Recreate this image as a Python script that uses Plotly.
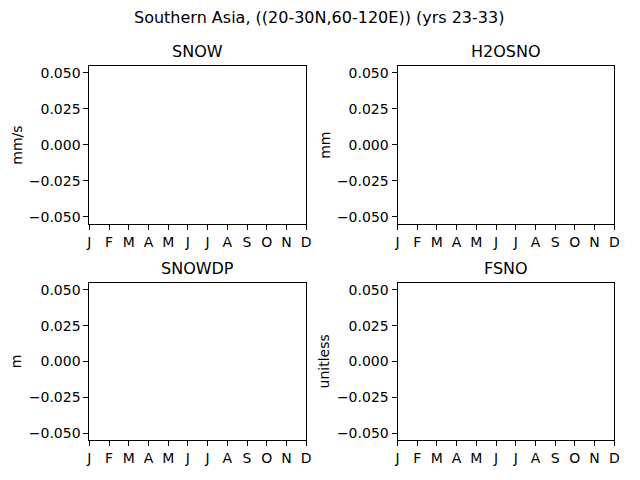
import plotly.graph_objects as go

# Data
months = [1, 2, 3, 4, 5, 6, 7, 8, 9, 10, 11, 12]
month_labels = ["J", "F", "M", "A", "M", "J", "J", "A", "S", "O", "N", "D"]
variables = ["SNOW", "H2OSNO", "SNOWDP", "FSNO"]
units = ["mm/s", "mm", "m", "unitless"]
snow_values = []
h2osno_values = []
snowdp_values = []
fsno_values = []
y_ticks = [-0.05, -0.025, 0.0, 0.025, 0.05]
suptitle = "Southern Asia, ((20-30N,60-120E)) (yrs 23-33)"

series = [snow_values, h2osno_values, snowdp_values, fsno_values]

W, H = 640, 480
FONT = "DejaVu Sans"
# panel pixel boxes (left, right, top, bottom)
boxes = [(87.5, 307, 65, 224), (399.5, 619, 65, 224),
         (87.5, 307, 283, 441), (399.5, 619, 283, 441)]
ylab_x = [14, 326]

fig = go.Figure()
for i, (var, vals) in enumerate(zip(variables, series)):
    n = "" if i == 0 else str(i + 1)
    fig.add_trace(go.Scatter(x=months[:len(vals)], y=vals, mode="lines",
                             line=dict(color="#1f77b4"), xaxis="x" + n, yaxis="y" + n,
                             showlegend=False))
    l, r, t, b = boxes[i]
    xd = [l / W, r / W]
    yd = [1 - b / H, 1 - t / H]
    ax = dict(showline=True, mirror=True, linecolor="black", linewidth=1,
              ticks="outside", ticklen=5, tickwidth=1, tickcolor="black",
              showgrid=False, zeroline=False,
              tickfont=dict(family=FONT, size=14, color="black"))
    xa = dict(ax, domain=xd, range=[1, 12], tickmode="array", tickvals=months,
              ticktext=month_labels, anchor="y" + n)
    ya = dict(ax, domain=yd, range=[-0.055, 0.055], tickmode="array", tickvals=y_ticks,
              tickformat=".3f", anchor="x" + n)
    fig.update_layout({"xaxis" + n: xa, "yaxis" + n: ya})
    fig.add_annotation(x=(l + r) / 2 / W, y=1 - (51 if i < 2 else 269) / H,
                       xref="paper", yref="paper", text=var, showarrow=False,
                       xanchor="center", yanchor="middle",
                       font=dict(family=FONT, size=16, color="black"))
    fig.add_annotation(x=ylab_x[i % 2] / W, y=1 - ((t + b) / 2) / H,
                       xref="paper", yref="paper", text=units[i], showarrow=False,
                       textangle=-90, xanchor="center", yanchor="middle",
                       font=dict(family=FONT, size=14, color="black"))

fig.add_annotation(x=0.5, y=1 - 17 / H, xref="paper", yref="paper", text=suptitle,
                   showarrow=False, xanchor="center", yanchor="middle",
                   font=dict(family=FONT, size=16, color="black"))

fig.update_layout(width=W, height=H, margin=dict(l=0, r=0, t=0, b=0),
                  plot_bgcolor="white", paper_bgcolor="white",
                  font=dict(family=FONT, color="black"))
fig.write_html("out.html", config={"displayModeBar": False},
               post_script="document.body.style.margin='0';")
